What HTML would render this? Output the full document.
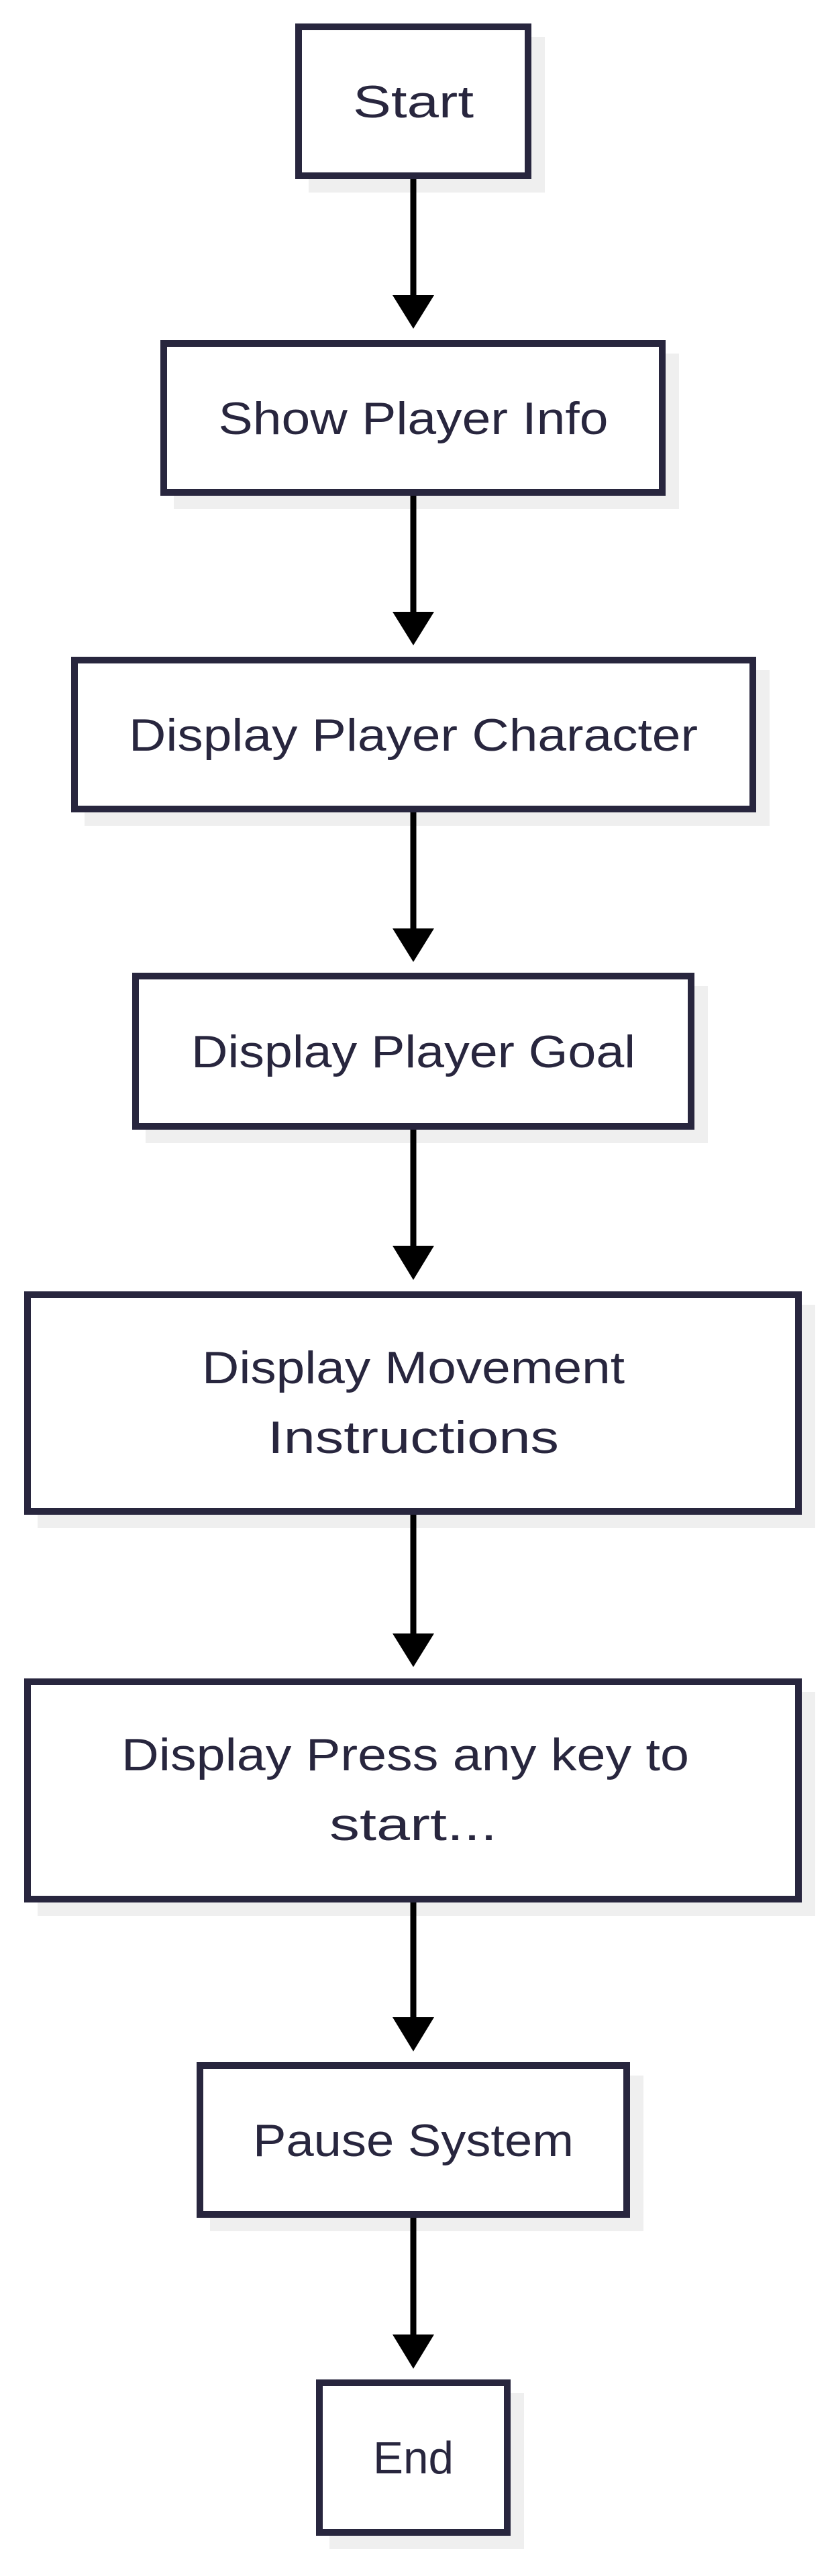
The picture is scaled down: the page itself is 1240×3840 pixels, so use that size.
<!DOCTYPE html>
<html><head><meta charset="utf-8"><style>
html,body{margin:0;padding:0;background:#fff;}
svg{display:block;}
text{font-family:"Liberation Sans",sans-serif;font-size:68px;fill:#28263e;}
</style></head><body>
<svg width="1240" height="3840" viewBox="0 0 1240 3840" xmlns="http://www.w3.org/2000/svg">
<g fill="#efefef">
<rect x="460" y="55" width="352" height="232"/>
<rect x="259" y="527" width="753" height="232"/>
<rect x="126" y="999" width="1021" height="232"/>
<rect x="217" y="1470" width="838" height="234"/>
<rect x="56" y="1945" width="1159" height="333"/>
<rect x="56" y="2522" width="1159" height="334"/>
<rect x="313" y="3094" width="646" height="232"/>
<rect x="491" y="3567" width="290" height="233"/>
</g>
<g fill="#fff" stroke="#28263e" stroke-width="10">
<rect x="445" y="40" width="342" height="222"/>
<rect x="244" y="512" width="743" height="222"/>
<rect x="111" y="984" width="1011" height="222"/>
<rect x="202" y="1455" width="828" height="224"/>
<rect x="41" y="1930" width="1149" height="323"/>
<rect x="41" y="2507" width="1149" height="324"/>
<rect x="298" y="3079" width="636" height="222"/>
<rect x="476" y="3552" width="280" height="223"/>
</g>
<g stroke="#000" stroke-width="9">
<line x1="616" y1="267" x2="616" y2="442"/>
<line x1="616" y1="739" x2="616" y2="914"/>
<line x1="616" y1="1211" x2="616" y2="1385"/>
<line x1="616" y1="1684" x2="616" y2="1860"/>
<line x1="616" y1="2258" x2="616" y2="2437"/>
<line x1="616" y1="2836" x2="616" y2="3009"/>
<line x1="616" y1="3306" x2="616" y2="3482"/>
</g>
<g fill="#000">
<polygon points="585,440 647,440 616,490"/>
<polygon points="585,912 647,912 616,962"/>
<polygon points="585,1384 647,1384 616,1434"/>
<polygon points="585,1857 647,1857 616,1908"/>
<polygon points="585,2435 647,2435 616,2485"/>
<polygon points="585,3007 647,3007 616,3058"/>
<polygon points="585,3480 647,3480 616,3531"/>
</g>
<g text-anchor="middle">
<text x="616" y="175" textLength="180" lengthAdjust="spacingAndGlyphs">Start</text>
<text x="616" y="647" textLength="581" lengthAdjust="spacingAndGlyphs">Show Player Info</text>
<text x="616" y="1119" textLength="848" lengthAdjust="spacingAndGlyphs">Display Player Character</text>
<text x="616" y="1591" textLength="662" lengthAdjust="spacingAndGlyphs">Display Player Goal</text>
<text x="616" y="2062" textLength="630" lengthAdjust="spacingAndGlyphs">Display Movement</text>
<text x="616" y="2166" textLength="434" lengthAdjust="spacingAndGlyphs">Instructions</text>
<text x="604" y="2639" textLength="846" lengthAdjust="spacingAndGlyphs">Display Press any key to</text>
<text x="616" y="2743" textLength="250" lengthAdjust="spacingAndGlyphs">start...</text>
<text x="616" y="3214" textLength="478" lengthAdjust="spacingAndGlyphs">Pause System</text>
<text x="616" y="3687" textLength="120" lengthAdjust="spacingAndGlyphs">End</text>
</g>
</svg>
</body></html>
